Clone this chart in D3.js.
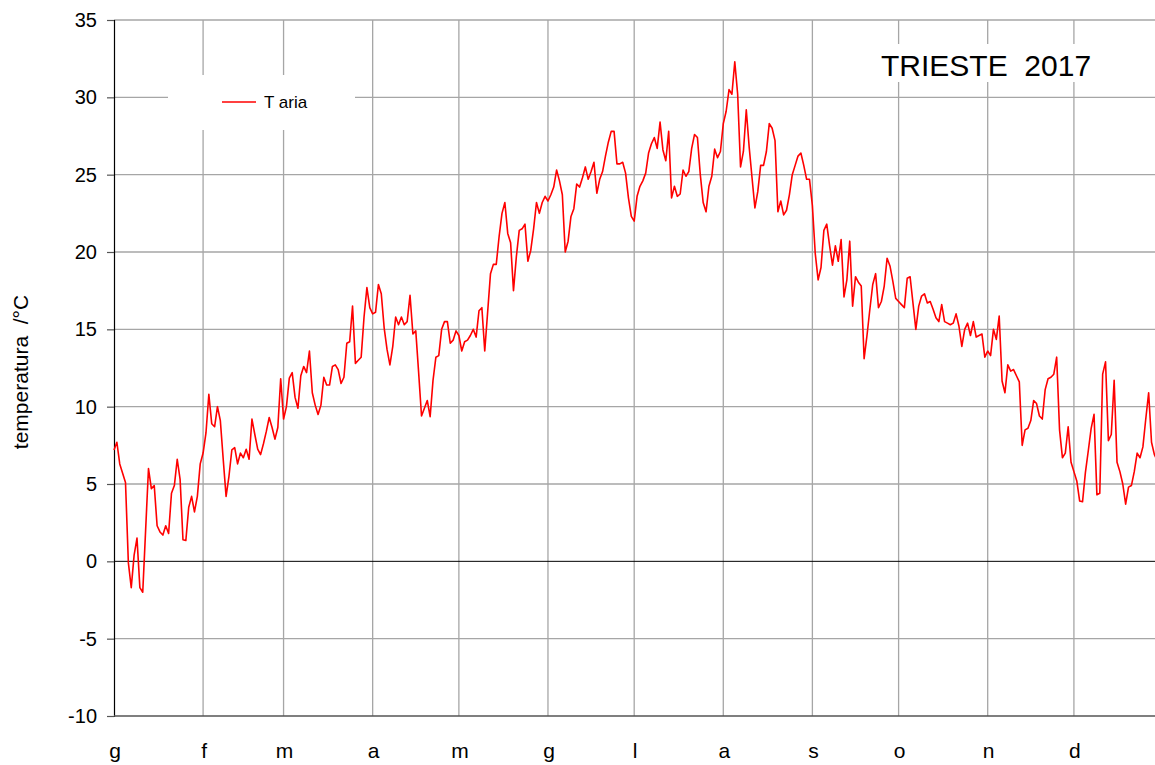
<!DOCTYPE html>
<html>
<head>
<meta charset="utf-8">
<script src="https://cdn.jsdelivr.net/npm/d3@7"></script>
<style>
	body { margin: 0; background: #fff; }
	svg { display: block; font-family: "Liberation Sans", Arial, sans-serif; }
</style>
</head>
<body>
<div id="chart"></div>
<script>
/* global d3 */

// etichette dei mesi e lunghezza dei mesi (2017)
var monthLabels = ['g', 'f', 'm', 'a', 'm', 'g', 'l', 'a', 's', 'o', 'n', 'd'];
var monthDays = [31, 28, 31, 30, 31, 30, 31, 31, 30, 31, 30, 31];
var yTicks = [-10, -5, 0, 5, 10, 15, 20, 25, 30, 35];
var seriesName = 'T aria';
var chartTitle = 'TRIESTE  2017';
var yTitle = 'temperatura  /°C';

// temperatura media giornaliera, un valore per giorno
var tAria = [
	// gennaio
	7.2, 7.7, 6.3, 5.7, 5.1, -0.1, -1.7, 0.4, 1.5, -1.7, -2.0, 2.0, 6.0, 4.7, 4.9, 2.3,
	1.9, 1.7, 2.3, 1.8, 4.4, 4.9, 6.6, 5.3, 1.4, 1.35, 3.5, 4.2, 3.2, 4.2, 6.3,
	// febbraio
	7.0, 8.3, 10.8, 8.9, 8.7, 10.0, 9.1, 6.6, 4.2, 5.5, 7.2, 7.35, 6.3, 7.0,
	6.7, 7.25, 6.6, 9.2, 8.2, 7.25, 6.9, 7.6, 8.4, 9.3, 8.65, 7.9, 8.65, 11.8,
	// marzo
	9.2, 10.0, 11.85, 12.2, 10.6, 9.9, 12.0, 12.6, 12.2, 13.6, 10.9, 10.1, 9.5, 10.1, 11.9, 11.4,
	11.4, 12.6, 12.7, 12.4, 11.5, 11.9, 14.1, 14.2, 16.5, 12.8, 13.0, 13.2, 15.8, 17.7, 16.4,
	// aprile
	16.0, 16.1, 17.9, 17.3, 15.1, 13.7, 12.7, 13.9, 15.8, 15.3, 15.8, 15.3, 15.5, 17.2, 14.7,
	14.9, 12.2, 9.4, 9.9, 10.4, 9.35, 11.7, 13.2, 13.3, 15.0, 15.5, 15.5, 14.1, 14.3, 14.9,
	// maggio
	14.6, 13.6, 14.2, 14.3, 14.6, 15.0, 14.5, 16.2, 16.4, 13.6, 16.1, 18.6, 19.2, 19.2, 21.0, 22.5,
	23.2, 21.2, 20.6, 17.5, 19.7, 21.4, 21.5, 21.8, 19.4, 20.1, 21.5, 23.2, 22.5, 23.2, 23.6,
	// giugno
	23.3, 23.7, 24.2, 25.3, 24.6, 23.7, 20.0, 20.7, 22.3, 22.8, 24.4, 24.2, 24.8, 25.5, 24.7,
	25.2, 25.8, 23.8, 24.7, 25.2, 26.2, 27.1, 27.8, 27.8, 25.7, 25.7, 25.8, 25.1, 23.5, 22.3,
	// luglio
	22.0, 23.6, 24.25, 24.6, 25.1, 26.4, 27.0, 27.4, 26.7, 28.4, 26.6, 25.9, 27.8, 23.5, 24.25, 23.6,
	23.75, 25.3, 24.9, 25.2, 26.7, 27.6, 27.4, 25.0, 23.2, 22.6, 24.25, 24.9, 26.65, 26.1, 26.5,
	// agosto
	28.3, 29.1, 30.5, 30.2, 32.3, 30.2, 25.5, 26.5, 29.2, 26.8, 24.8, 22.85, 23.9, 25.6, 25.6, 26.5,
	28.3, 28.0, 27.2, 22.6, 23.3, 22.4, 22.7, 23.7, 25.0, 25.6, 26.2, 26.4, 25.6, 24.7, 24.7,
	// settembre
	23.0, 19.9, 18.2, 19.0, 21.4, 21.8, 20.4, 19.15, 20.4, 19.4, 20.8, 17.1, 18.2, 20.7, 16.5,
	18.4, 18.05, 17.8, 13.1, 14.6, 16.3, 17.9, 18.6, 16.4, 16.8, 17.8, 19.6, 19.1, 18.1, 17.0,
	// ottobre
	16.8, 16.6, 16.4, 18.3, 18.4, 16.7, 15.0, 16.5, 17.15, 17.3, 16.7, 16.8, 16.3, 15.75, 15.5, 16.6,
	15.5, 15.4, 15.3, 15.4, 16.0, 15.2, 13.9, 15.0, 15.4, 14.6, 15.5, 14.5, 14.6, 14.7, 13.2,
	// novembre
	13.6, 13.3, 15.0, 14.35, 15.86, 11.66, 10.9, 12.7, 12.3, 12.4, 12.0, 11.6, 7.5, 8.5, 8.6,
	9.1, 10.4, 10.2, 9.4, 9.2, 11.1, 11.8, 11.9, 12.1, 13.2, 8.5, 6.7, 7.0, 8.7, 6.4,
	// dicembre
	5.8, 5.2, 3.9, 3.85, 5.75, 7.15, 8.6, 9.5, 4.3, 4.4, 12.1, 12.9, 7.8, 8.2, 11.7, 6.4,
	5.8, 5.0, 3.7, 4.8, 4.9, 5.8, 7.0, 6.7, 7.4, 9.2, 10.9, 7.7, 6.9, 6.5, 6.2
];

var width = 1155;
var height = 765;
var margin = {top: 20, left: 114, bottom: 49};
var dayW = 2.874;
var nDays = d3.sum(monthDays);

var svg = d3.select('#chart').append('svg')
	.attr('width', width).attr('height', height);

var x = d3.scaleLinear().domain([0, nDays]).range([margin.left, margin.left + nDays * dayW]);
var y = d3.scaleLinear().domain([-10, 35]).range([height - margin.bottom, margin.top]);

// inizio di ogni mese (giorno dell'anno)
var monthStart = monthDays.map(function (d, i) {
	return d3.sum(monthDays.slice(0, i));
});

// griglia orizzontale
svg.append('g')
	.selectAll('line')
	.data(yTicks.filter(function (t) { return t !== 0 && t !== -10; }))
	.join('line')
	.attr('x1', margin.left).attr('x2', width)
	.attr('y1', function (d) { return y(d); }).attr('y2', function (d) { return y(d); })
	.attr('stroke', '#a6a6a6').attr('stroke-width', 1.3);

// griglia verticale (mesi)
svg.append('g')
	.selectAll('line')
	.data(monthStart.slice(1))
	.join('line')
	.attr('x1', function (d) { return x(d); }).attr('x2', function (d) { return x(d); })
	.attr('y1', y(35)).attr('y2', y(-10))
	.attr('stroke', '#a6a6a6').attr('stroke-width', 1.3);

// linea dello zero
svg.append('line')
	.attr('x1', margin.left).attr('x2', width)
	.attr('y1', y(0)).attr('y2', y(0))
	.attr('stroke', '#000').attr('stroke-width', 1);

// box bianchi di titolo e legenda sopra la griglia
svg.append('rect')
	.attr('x', 168).attr('y', 75).attr('width', 187).attr('height', 55)
	.attr('fill', '#fff');
svg.append('rect')
	.attr('x', 872).attr('y', 44).attr('width', 228).attr('height', 38)
	.attr('fill', '#fff');

// asse y
var yAxis = d3.axisLeft(y).tickValues(yTicks).tickSize(7).tickPadding(10)
	.tickFormat(function (d) { return String(d); });
var gy = svg.append('g')
	.attr('transform', 'translate(' + margin.left + ',0)')
	.call(yAxis);
gy.select('.domain').attr('stroke', '#000').attr('stroke-width', 1.2);
gy.selectAll('.tick line').attr('stroke', '#555').attr('stroke-width', 1.2);
gy.selectAll('.tick text')
	.attr('font-size', 20).attr('fill', '#000')
	.attr('font-family', '"Liberation Sans", Arial, sans-serif');

// asse x (linea di base a -10)
svg.append('line')
	.attr('x1', margin.left).attr('x2', width)
	.attr('y1', y(-10)).attr('y2', y(-10))
	.attr('stroke', '#555').attr('stroke-width', 1.3);

// etichette dei mesi
svg.append('g')
	.selectAll('text')
	.data(monthLabels)
	.join('text')
	.attr('x', function (d, i) { return x(monthStart[i]) + 1; })
	.attr('y', 758)
	.attr('text-anchor', 'middle')
	.attr('font-size', 21)
	.text(function (d) { return d; });

// serie
var line = d3.line()
	.x(function (d, i) { return x(i); })
	.y(function (d) { return y(d); });
svg.append('path')
	.datum(tAria)
	.attr('d', line)
	.attr('fill', 'none')
	.attr('stroke', '#ff0000')
	.attr('stroke-width', 1.6)
	.attr('stroke-linejoin', 'round');

// legenda
svg.append('line')
	.attr('x1', 222).attr('x2', 256).attr('y1', 102).attr('y2', 102)
	.attr('stroke', '#ff0000').attr('stroke-width', 1.6);
svg.append('text')
	.attr('x', 264).attr('y', 108)
	.attr('font-size', 17)
	.text(seriesName);

// titolo
svg.append('text')
	.attr('x', 881).attr('y', 76)
	.attr('font-size', 30)
	.style('white-space', 'pre')
	.text(chartTitle);

// titolo asse y
svg.append('text')
	.attr('transform', 'translate(28,372) rotate(-90)')
	.attr('text-anchor', 'middle')
	.attr('font-size', 21)
	.style('white-space', 'pre')
	.text(yTitle);
</script>
</body>
</html>
